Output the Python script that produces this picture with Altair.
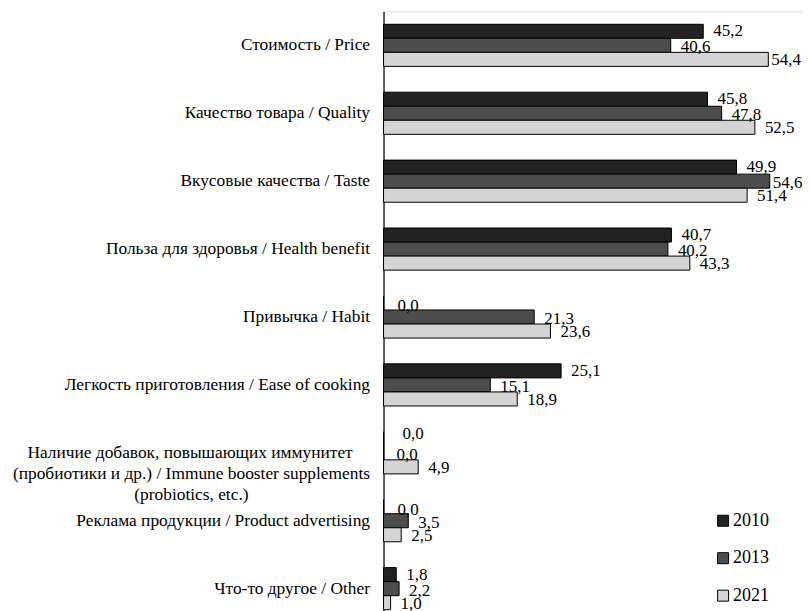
import altair as alt
import pandas as pd

NB = "\u00a0"
ZW = "\u200b"
IMMUNE = ("Наличие добавок, повышающих иммунитет" + NB * 4 + ZW
          + "|(пробиотики и др.) / Immune booster supplements|(probiotics, etc.)" + NB * 28 + ZW)
categories = [
    "Стоимость / Price",
    "Качество товара / Quality",
    "Вкусовые качества / Taste",
    "Польза для здоровья / Health benefit",
    "Привычка / Habit",
    "Легкость приготовления / Ease of cooking",
    IMMUNE,
    "Реклама продукции / Product advertising",
    "Что-то другое / Other",
]
years = ["2010", "2013", "2021"]
v2010 = [45.2, 45.8, 49.9, 40.7, 0.0, 25.1, 0.0, 0.0, 1.8]
v2013 = [40.6, 47.8, 54.6, 40.2, 21.3, 15.1, 0.0, 3.5, 2.2]
v2021 = [54.4, 52.5, 51.4, 43.3, 23.6, 18.9, 4.9, 2.5, 1.0]
colors = ["#222222", "#4d4d4d", "#d4d4d4"]

rows = []
for yr, vals in zip(years, [v2010, v2013, v2021]):
    for i, (c, v) in enumerate(zip(categories, vals)):
        rows.append({"cat": c, "idx": i, "year": yr, "value": v,
                     "label": f"{v:.1f}".replace(".", ",")})
df = pd.DataFrame(rows)

FONT = "Liberation Serif"

y_enc = alt.Y("cat:N", sort=categories,
              scale=alt.Scale(paddingInner=0.38, paddingOuter=0.19),
              axis=alt.Axis(title=None, ticks=False, domainColor="#000000",
                            domainWidth=1.2, labelFont=FONT, labelFontSize=17.4,
                            labelColor="#000000", labelLimit=0, labelPadding=14,
                            labelLineHeight=21,
                            labelExpr="split(datum.label, '|')"))
yoff = alt.YOffset("year:N", sort=years)
x_enc = alt.X("value:Q", scale=alt.Scale(domain=[0, 59.3], nice=False), axis=None)

bars = alt.Chart(df).mark_bar(stroke="#000000", strokeWidth=1).encode(
    y=y_enc, yOffset=yoff, x=x_enc,
    color=alt.Color("year:N", sort=years,
                    scale=alt.Scale(domain=years, range=colors),
                    legend=alt.Legend(title=None, orient="none", legendX=331,
                                      legendY=501, symbolType="square",
                                      symbolSize=121, symbolStrokeColor="#000000",
                                      symbolStrokeWidth=1, labelFont=FONT,
                                      labelFontSize=18, labelColor="#000000",
                                      rowPadding=19.5, symbolOpacity=1,
                                      labelOffset=1)),
)

dys = {"2010": 0, "2013": 2, "2021": 1}
texts = []
for yr in years:
    base = alt.Chart(df).transform_filter(alt.datum.year == yr)
    enc = dict(y=alt.Y("cat:N", sort=categories), yOffset=yoff,
               x=x_enc, text="label:N")
    texts.append(
        base.transform_filter((alt.datum.value > 0) & (alt.datum.value < 54.0))
        .mark_text(align="left", baseline="middle", dx=10, dy=dys[yr],
                   font=FONT, fontSize=17, color="#000000").encode(**enc))
    texts.append(
        base.transform_filter(alt.datum.value >= 54.0)
        .mark_text(align="left", baseline="middle", dx=3, dy=dys[yr],
                   font=FONT, fontSize=17, color="#000000").encode(**enc))
    zero = base.transform_filter(alt.datum.value == 0)
    if yr == "2010":
        texts.append(
            zero.transform_filter(alt.datum.idx != 6)
            .mark_text(align="left", baseline="middle", dx=14, dy=3,
                       font=FONT, fontSize=17, color="#000000").encode(**enc))
        texts.append(
            zero.transform_filter(alt.datum.idx == 6)
            .mark_text(align="left", baseline="middle", dx=19, dy=-5,
                       font=FONT, fontSize=17, color="#000000").encode(**enc))
    else:
        texts.append(
            zero.mark_text(align="left", baseline="middle", dx=13, dy=dys[yr],
                           font=FONT, fontSize=17, color="#000000").encode(**enc))

chart = alt.layer(bars, *texts).properties(
    width=420, height=612,
    autosize=alt.AutoSizeParams(type="none"),
    padding={"left": 376, "top": 3, "right": 0, "bottom": 0},
).configure_view(stroke=None).configure(background="#ffffff")

chart.save("out.html", embed_options={"renderer": "svg", "actions": False})
